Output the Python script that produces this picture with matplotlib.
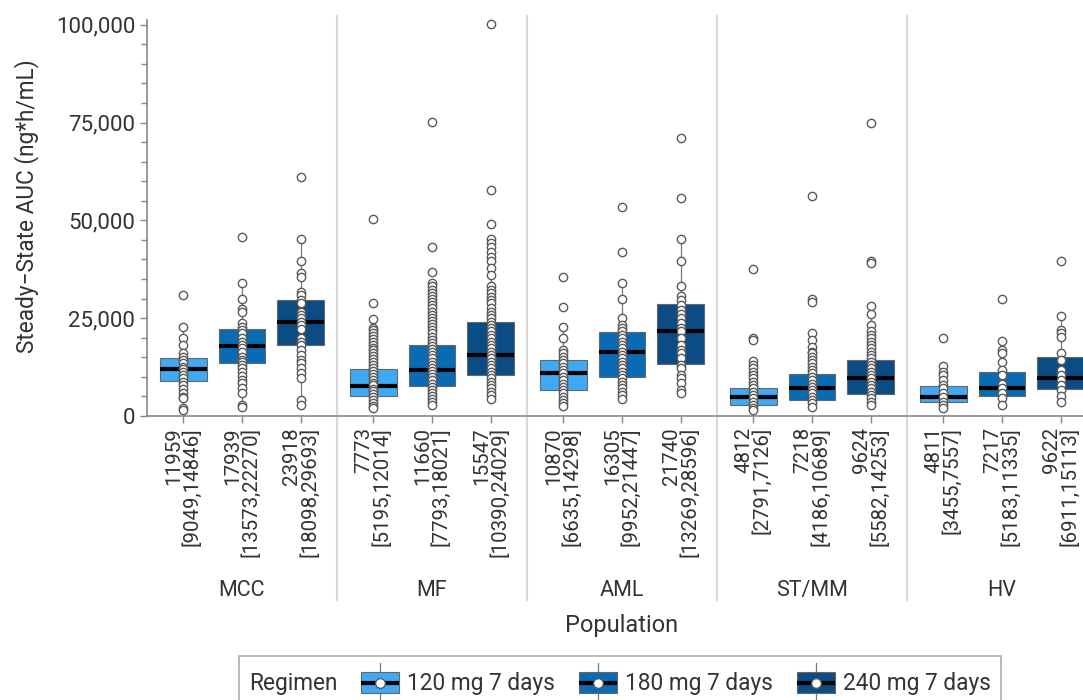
import matplotlib
matplotlib.use('Agg')
import matplotlib.pyplot as plt
import matplotlib.transforms as mtransforms
import numpy as np
from matplotlib.patches import Patch, Rectangle
from matplotlib.lines import Line2D
from matplotlib.legend_handler import HandlerBase
from matplotlib.ticker import MultipleLocator, FuncFormatter

plt.rcParams['font.family'] = ['Roboto', 'DejaVu Sans']

populations = ['MCC', 'MF', 'AML', 'ST/MM', 'HV']
regimens = ['120 mg 7 days', '180 mg 7 days', '240 mg 7 days']
colors = ['#3fa9f3', '#0a6bb5', '#0b4c85']

# median, Q1, Q3 per population (rows) and regimen (cols)
medians = [[11959, 17939, 23918],
           [7773, 11660, 15547],
           [10870, 16305, 21740],
           [4812, 7218, 9624],
           [4811, 7217, 9622]]
q1 = [[9049, 13573, 18098],
      [5195, 7793, 10390],
      [6635, 9952, 13269],
      [2791, 4186, 5582],
      [3455, 5183, 6911]]
q3 = [[14846, 22270, 29693],
      [12014, 18021, 24029],
      [14298, 21447, 28596],
      [7126, 10689, 14253],
      [7557, 11335, 15113]]

# individual AUC values
mcc_120 = [31000, 22800, 20000, 18100, 16000, 15200, 14300, 13500, 12600, 11900, 11300, 10500,
           9600, 8800, 7900, 6800, 5800, 4900, 4500, 2000, 1500]
mcc_180 = [45800, 33900, 29800, 27300, 26700, 23700, 22800, 22000, 21100, 19900, 19000, 18200,
           17300, 16400, 15200, 14300, 13900, 13000, 12200, 11300, 10100, 9200, 8400, 7100, 5800,
           2800, 2200]
mcc_240 = [61200, 45200, 39700, 36500, 35600, 31800, 30900, 29700, 28800, 26700, 25800, 25000,
           24100, 23300, 22200, 19900, 19000, 18200, 16900, 15600, 14300, 13500, 12200, 10900,
           9600, 4100, 2800]
mf_120 = [50300, 28800, 24700, 22400, 22000, 21200, 20500, 19800, 19000, 18200, 17500, 16800,
          16000, 15300, 14500, 13800, 13000, 12300, 11500, 10800, 10000, 9300, 8500, 7800, 7000,
          6300, 5500, 4800, 4000, 3300, 2600, 2000]
mf_180 = [75200, 43300, 36900, 33900, 33100, 32300, 31500, 30700, 29900, 29100, 28300, 27500,
          26700, 25900, 25100, 24300, 23500, 22700, 21900, 21100, 20300, 19500, 18700, 17900,
          17100, 16300, 15500, 14700, 13900, 13100, 12300, 11500, 10700, 9900, 9100, 8300, 7500,
          6700, 5900, 5100, 4300, 3500, 2800]
mf_240 = [100200, 57800, 49100, 45200, 44100, 43100, 42000, 40700, 39500, 37700, 36000, 33100,
          32200, 31400, 30500, 29700, 28800, 27500, 26700, 25800, 25000, 24100, 23300, 22400,
          21600, 20700, 19900, 19000, 18200, 17300, 16400, 15600, 14700, 13900, 13000, 12200,
          11300, 10500, 9600, 8800, 7900, 7100, 6200, 5400, 4300]
aml_120 = [35600, 27900, 22700, 19900, 16900, 16000, 15200, 14300, 13500, 12600, 11800, 10900,
           10000, 9200, 8300, 7500, 6600, 5800, 4900, 4100, 3300, 2600]
aml_180 = [53300, 41800, 34100, 29800, 25000, 23300, 22400, 21600, 20700, 19900, 19000, 18200,
           17300, 16400, 15600, 14700, 13900, 13000, 12200, 11300, 10500, 9600, 8800, 7900, 7100,
           6200, 5400, 4300]
aml_240 = [71000, 55800, 45200, 39500, 33300, 30700, 29700, 28400, 27100, 26100, 25000, 23700,
           22400, 21600, 19900, 18200, 16900, 16000, 14700, 13000, 12200, 10500, 9600, 8400,
           6700, 5800]
stmm_120 = [37600, 19900, 19500, 14000, 13000, 12200, 11300, 10500, 9600, 8800, 7900, 7100,
            6200, 5400, 4500, 3700, 2800, 2000, 1500]
stmm_180 = [56300, 29800, 29200, 21300, 19400, 17700, 16400, 16000, 15200, 14300, 13500, 12600,
            11800, 10900, 10000, 9200, 8300, 7500, 6600, 5800, 4900, 4100, 3200, 2200]
stmm_240 = [75000, 39700, 39200, 28200, 26100, 23300, 21600, 20700, 19900, 19000, 18200, 17300,
            16400, 15600, 14700, 13900, 13000, 12200, 11300, 10500, 9600, 8800, 7900, 7100, 6200,
            5400, 4500, 3700, 2800]
hv_120 = [20000, 12800, 11300, 10500, 9200, 7900, 7100, 5800, 4900, 3700, 2800, 2000]
hv_180 = [29800, 19200, 16900, 16000, 13900, 11800, 10500, 8300, 7100, 5800, 4500, 2800]
hv_240 = [39700, 25600, 22000, 21100, 20300, 16000, 14300, 11800, 10500, 9200, 7900, 6700,
          5000, 3700]

auc = [[mcc_120, mcc_180, mcc_240],
       [mf_120, mf_180, mf_240],
       [aml_120, aml_180, aml_240],
       [stmm_120, stmm_180, stmm_240],
       [hv_120, hv_180, hv_240]]

offsets = [0.19, 0.5, 0.81]
box_w = 0.247

fig = plt.figure(figsize=(10.83, 7.0), dpi=100)
ax = fig.add_axes([147 / 1083, 284 / 700, 950 / 1083, 396 / 700])

stats, pos, labels, fcs = [], [], [], []
for g in range(len(populations)):
    for r in range(3):
        vals = np.array(auc[g][r])
        iqr = q3[g][r] - q1[g][r]
        hi = vals[vals <= q3[g][r] + 1.5 * iqr].max()
        lo = vals[vals >= q1[g][r] - 1.5 * iqr].min()
        stats.append(dict(med=medians[g][r], q1=q1[g][r], q3=q3[g][r],
                          whislo=lo, whishi=hi, fliers=[]))
        pos.append(g + offsets[r])
        labels.append(f"{medians[g][r]}\n[{q1[g][r]},{q3[g][r]}]")
        fcs.append(colors[r])

bp = ax.bxp(stats, positions=pos, widths=box_w, patch_artist=True, showfliers=False,
            showcaps=False, manage_ticks=False,
            boxprops=dict(edgecolor='#666666', linewidth=0.8),
            medianprops=dict(color='black', linewidth=3, solid_capstyle='butt'),
            whiskerprops=dict(color='#7a7a7a', linewidth=0.9))
for patch, fc in zip(bp['boxes'], fcs):
    patch.set_facecolor(fc)

i = 0
for g in range(len(populations)):
    for r in range(3):
        vals = auc[g][r]
        ax.plot(np.full(len(vals), pos[i]), vals, 'o', ms=6, mfc='white', mec='#5a5a5a',
                mew=1.0, zorder=4, clip_on=False)
        i += 1

ax.set_xlim(0, 5)
ax.set_ylim(0, 101200)
ax.yaxis.set_major_locator(MultipleLocator(25000))
ax.yaxis.set_minor_locator(MultipleLocator(5000))
ax.yaxis.set_major_formatter(FuncFormatter(lambda v, p: f"{int(v):,}"))
ax.set_xticks(pos)
ax.set_xticklabels(labels, rotation=90, fontsize=14.8, linespacing=0.93)
shift = mtransforms.ScaledTranslation(4 / 100, 0, fig.dpi_scale_trans)
for t in ax.get_xticklabels():
    t.set_multialignment('right')
    t.set_transform(t.get_transform() + shift)
ax.tick_params(axis='y', labelsize=16, labelcolor='#333333', color='#888888', length=5, width=1)
ax.tick_params(axis='y', which='minor', color='#888888', length=4, width=1)
ax.tick_params(axis='x', labelcolor='#333333', color='#888888', length=5, width=1, pad=3)

for s in ['top', 'right']:
    ax.spines[s].set_visible(False)
for s in ['left', 'bottom']:
    ax.spines[s].set_color('#888888')
    ax.spines[s].set_linewidth(1.2)

ax.set_ylabel('Steady\u2212State AUC (ng*h/mL)', fontsize=16.3, color='#333333')
ax.yaxis.set_label_coords(-0.114, 0.53)

xt = ax.get_xaxis_transform()
for g in range(1, len(populations)):
    ax.plot([g, g], [1.01, -0.465], transform=xt, color='#d9d9d9', lw=1.5,
            clip_on=False, zorder=0)
for g, name in enumerate(populations):
    ax.text(g + 0.5, -0.44, name, transform=xt, ha='center', va='center',
            fontsize=15.5, color='#333333')
ax.text(2.5, -0.528, 'Population', transform=xt, ha='center', va='center',
        fontsize=17, color='#333333')


class BoxHandler(HandlerBase):
    def create_artists(self, legend, orig_handle, xd, yd, width, height, fontsize, trans):
        x0, y0 = -xd, -yd
        cx, cy = x0 + width / 2, y0 + height / 2
        bh = height * 0.66
        whisk = Line2D([cx, cx], [y0 - height * 0.1, y0 + height * 1.1], color='#7a7a7a',
                       lw=0.9)
        box = Rectangle((x0, cy - bh / 2), width, bh, facecolor=orig_handle.get_facecolor(),
                        edgecolor='#666666', lw=0.8)
        med = Line2D([x0, x0 + width], [cy, cy], color='black', lw=3, solid_capstyle='butt')
        dot = Line2D([cx], [cy], marker='o', ms=7, mfc='white', mec='#5a5a5a', mew=1,
                     ls='none')
        for a in (whisk, box, med, dot):
            a.set_transform(trans)
        return [whisk, box, med, dot]


handles = [Patch(facecolor=c) for c in colors]
leg = fig.legend(handles, regimens, loc='upper center', bbox_to_anchor=(0.5725, 0.0786),
                 ncol=3, title='Regimen', frameon=True, fancybox=False, edgecolor='#999999',
                 fontsize=16.3, title_fontsize=16.3, handlelength=1.68, handleheight=1.8,
                 handletextpad=0.35, columnspacing=1.06, borderpad=0.45,
                 handler_map={Patch: BoxHandler()})
leg.get_frame().set_linewidth(1.2)
for t in leg.get_texts():
    t.set_color('#333333')
leg.get_title().set_color('#333333')
# move the title to the left of the entries
vp = leg._legend_box
title_box, handle_box = vp.get_children()
vp._children = [handle_box]
handle_box._children.insert(0, title_box)

fig.savefig('out.png', dpi=100)
